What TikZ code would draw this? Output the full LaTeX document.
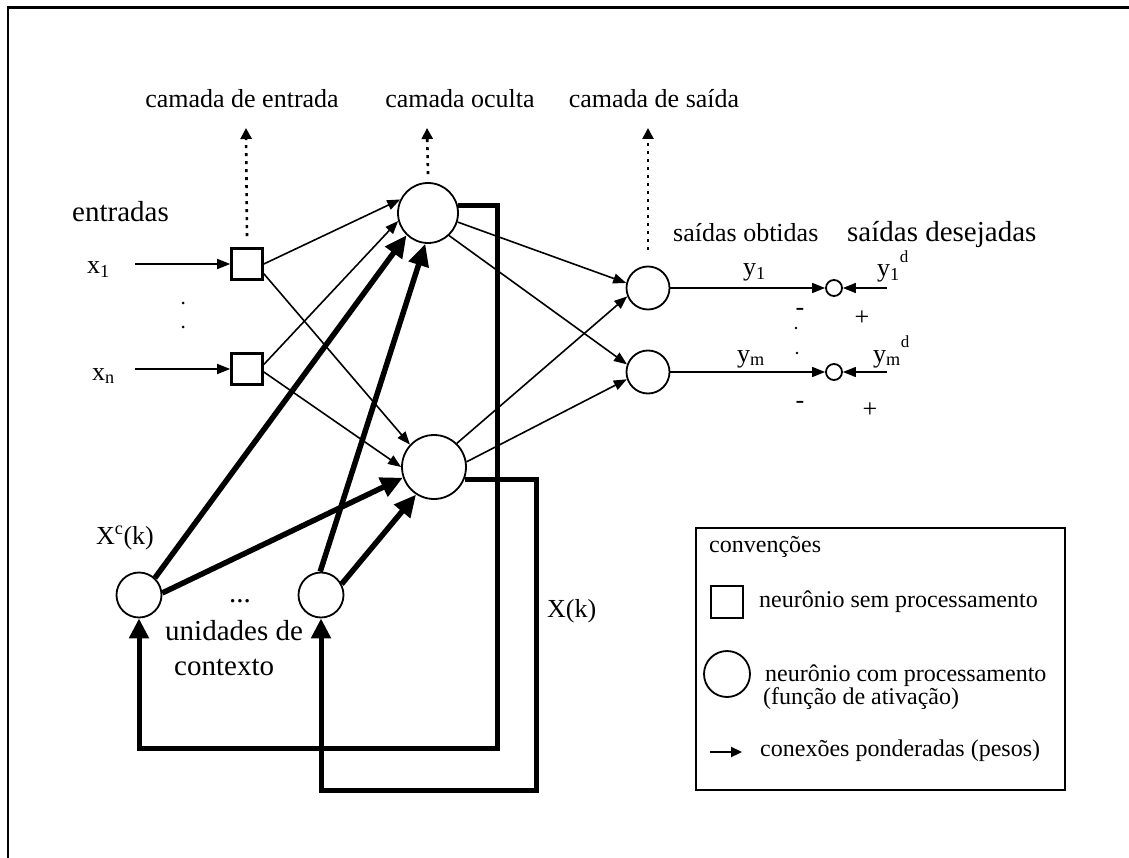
\documentclass[tikz,border=0pt]{standalone}
\usepackage{fontspec}
\setmainfont{Liberation Serif}
\usetikzlibrary{arrows.meta}

\begin{document}
\begin{tikzpicture}[x=1pt,y=-1pt,
  neuron/.style={circle,draw,line width=1.8pt,inner sep=0pt},
  inbox/.style={rectangle,draw,line width=2.6pt,minimum size=31pt,inner sep=0pt},
  sumnode/.style={circle,draw,line width=1.8pt,minimum size=16pt,inner sep=0pt},
  txt/.style={inner sep=0pt,anchor=base west,font=\fontsize{26}{30}\selectfont},
  bigtxt/.style={inner sep=0pt,anchor=base west,font=\fontsize{29}{33}\selectfont},
  legtxt/.style={inner sep=0pt,anchor=base west,font=\fontsize{24}{22}\selectfont},
  thin/.style={line width=1.6pt,-{Triangle[length=13pt,width=10pt]}},
  heavy/.style={line width=5.5pt,-{Triangle[length=22pt,width=20pt]}},
  feedback/.style={line width=5pt,-{Triangle[length=20pt,width=19pt]}},
  layerptr/.style={line width=2.6pt,dash pattern=on 3pt off 5pt,-{Triangle[length=11pt,width=11pt]}}
]
\useasboundingbox (0,0) rectangle (1129,858);

% frame
\draw[line width=2.2pt] (8,858) -- (8,7.5) -- (1129,7.5);

% layer captions and their pointers
\node[txt,anchor=base] (lin) at (242,108) {camada de entrada};
\node[txt,anchor=base] (lhid) at (460,108) {camada oculta};
\node[txt,anchor=base] (lout) at (654,108) {camada de saída};
\coordinate (pin) at (246,128);
\coordinate (phid) at (427,128);
\coordinate (pout) at (648,128);

% neurons
\node[inbox] (sq1) at (247,264) {};
\node[inbox] (sq2) at (247,369) {};
\node[neuron,minimum size=60pt] (h1) at (428,213) {};
\node[neuron,minimum size=64pt] (h2) at (434,467) {};
\node[neuron,minimum size=43pt] (o1) at (648,288) {};
\node[neuron,minimum size=43pt] (o2) at (648,372) {};
\node[neuron,minimum size=45pt] (c1) at (139,595) {};
\node[neuron,minimum size=45pt] (c2) at (321,595) {};
\node[sumnode] (s1) at (834,288) {};
\node[sumnode] (s2) at (834,372) {};

\draw[layerptr] ([yshift=11pt]sq1.north) -- (pin);
\draw[layerptr] ([yshift=8pt]h1.north) -- (phid);
\draw[layerptr] ([yshift=16pt]o1.north) -- (pout);

% inputs
\node[bigtxt] (lentr) at (72,222) {entradas};
\node[txt] (lx1) at (87,274) {x\textsubscript{1}};
\node[txt] (lxn) at (92,380) {x\textsubscript{n}};
\coordinate (in1) at (135,264);
\coordinate (in2) at (135,369);
\draw[thin] (in1) -- (sq1.west);
\draw[thin] (in2) -- (sq2.west);
\fill (183,303) circle (1.5pt);
\fill (183,327) circle (1.5pt);

% input layer to hidden layer
\draw[thin] (sq1.east) -- (h1.154);
\draw[thin] (sq1.-30) -- (h2.137);
\draw[thin] (sq2.15) -- (h1.195);
\draw[thin] (sq2.-10) -- (h2.180);

% context units to hidden layer
\draw[heavy] (c1.47) -- (h1.226);
\draw[heavy] (c1.5) -- (h2.199);
\draw[heavy] (c2.92) -- (h1.265);
\draw[heavy] (c2.28) -- (h2.237);

% hidden layer to output layer
\draw[thin] (h1.-17) -- (o1.167);
\draw[thin] (h1.-47) -- (o2.160);
\draw[thin] (h2.46) -- (o1.202);
\draw[thin] (h2.9) -- (o2.199);

% recurrent copies
\coordinate (fb1) at (497,748);
\coordinate (fb2) at (536,790);
\draw[feedback] (h1.15) -| (fb1) -| (c1.south);
\draw[feedback] (h2.-22) -| (fb2) -| (c2.south);

\node[txt] (lxc) at (96,544) {X\textsuperscript{c}(k)};
\node[bigtxt,anchor=base] (ldots) at (240,602) {...};
\node[bigtxt] (lun) at (165,640) {unidades de};
\node[bigtxt] (lctx) at (174,675) {contexto};
\node[txt] (lxk) at (547,617) {X(k)};

% outputs and desired outputs
\node[txt] (lobt) at (673,242) {saídas obtidas};
\node[bigtxt] (ldes) at (847,242) {saídas desejadas};
\draw[thin] (o1.east) -- (s1.west);
\draw[thin] (o2.east) -- (s2.west);
\coordinate (d1) at (887,288);
\coordinate (d2) at (887,372);
\draw[thin] (d1) -- (s1.east);
\draw[thin] (d2) -- (s2.east);
\node[txt] (ly1) at (743,276) {y\textsubscript{1}};
\node[txt] (lym) at (737,362) {y\textsubscript{m}};
\node[txt] (ly1d) at (877,277) {y\textsubscript{1}\raisebox{0.55em}{\fontsize{17}{17}\selectfont d}};
\node[txt] (lymd) at (873,362) {y\textsubscript{m}\raisebox{0.55em}{\fontsize{17}{17}\selectfont d}};
\node[txt,anchor=center] (m1) at (800,312) {-};
\node[txt,anchor=center] (p1) at (862,318) {+};
\node[txt,anchor=center] (m2) at (800,405) {-};
\node[txt,anchor=center] (p2) at (870,410) {+};
\fill (796,328) circle (1.4pt);
\fill (797,353) circle (1.4pt);

% legend
\node[draw,line width=1.6pt,minimum width=369pt,minimum height=262pt,inner sep=0pt,anchor=north west] (legend) at (695,527) {};
\node[legtxt] (lconv) at (709,552) {convenções};
\node[inbox,line width=2pt,minimum size=32pt] (lsq) at (727,602) {};
\node[legtxt] (lsem) at (759,607) {neurônio sem processamento};
\node[neuron,minimum size=46pt] (lci) at (727,674) {};
\node[legtxt] (lcom) at (765,681) {neurônio com processamento};
\node[legtxt] (lfun) at (763,704) {(função de ativação)};
\coordinate (la) at (710,752);
\coordinate (lb) at (742,752);
\draw[line width=2.2pt,-{Triangle[length=11pt,width=10pt]}] (la) -- (lb);
\node[legtxt] (lcon) at (760,756) {conexões ponderadas (pesos)};
\end{tikzpicture}
\end{document}
